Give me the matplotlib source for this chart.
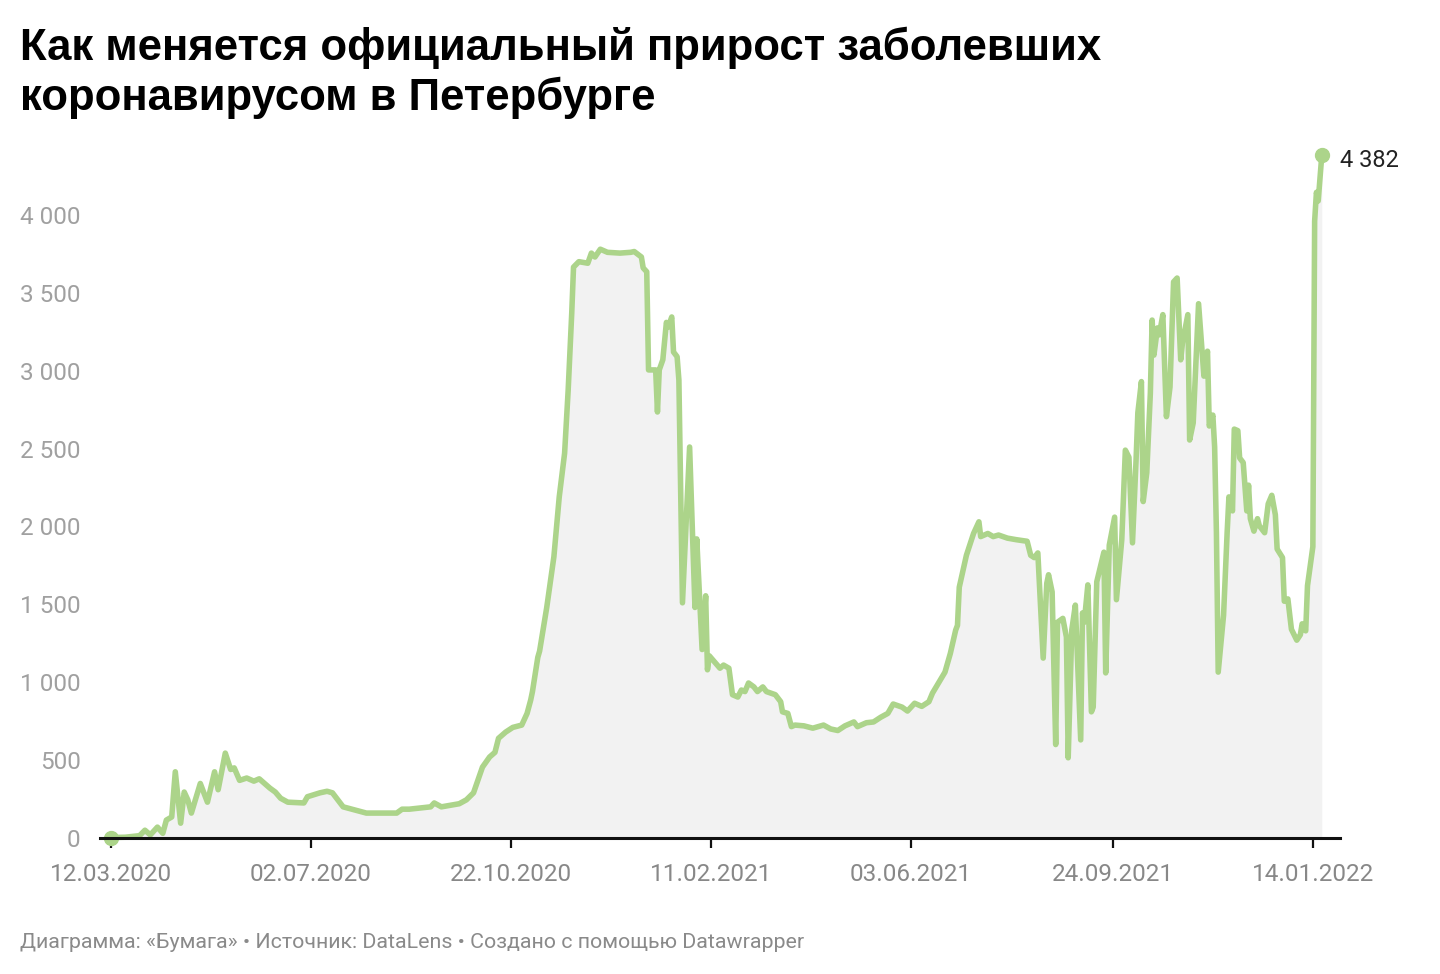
import matplotlib.pyplot as plt
import matplotlib.dates as mdates
import pandas as pd

# daily new cases (day offset from 12.03.2020)
start = pd.Timestamp("2020-03-12")
days = [0, 8, 16, 19, 22, 26, 29, 31, 34, 36, 39, 41, 43, 45, 50, 54, 58, 60, 64, 67,
        69, 72, 76, 80, 83, 89, 92, 95, 99, 108, 110, 117, 121, 124, 128, 130, 138, 143, 151, 160,
        163, 167, 179, 181, 185, 195, 199, 203, 206, 208, 212, 215, 217, 221, 225, 230, 233, 235, 236, 239,
        240, 244, 248, 251, 254, 256, 258, 259, 262, 267, 269, 271, 274, 278, 285, 291, 293, 297, 298, 300,
        301, 305, 306, 307, 309, 311, 312, 314, 315, 317, 318, 320, 324, 327, 328, 331, 333, 334, 335, 338,
        341, 343, 346, 348, 351, 353, 355, 357, 360, 362, 365, 367, 372, 375, 376, 379, 381, 383, 388, 393,
        399, 403, 407, 411, 416, 418, 423, 427, 431, 435, 438, 443, 446, 450, 454, 458, 460, 467, 470, 473,
        474, 475, 479, 483, 486, 487, 491, 494, 497, 502, 507, 513, 515, 517, 519, 522, 524, 525, 527, 529,
        530, 533, 535, 536, 538, 540, 543, 544, 545, 547, 549, 550, 552, 556, 557, 559, 562, 563, 566, 568,
        570, 572, 574, 575, 577, 578, 580, 582, 583, 584, 586, 587, 589, 591, 593, 595, 597, 599, 600, 603,
        604, 606, 609, 612, 614, 615, 617, 618, 619, 620, 623, 625, 626, 628, 629, 631, 632, 634, 636, 637,
        638, 640, 642, 643, 646, 648, 650, 652, 653, 656, 657, 659, 661, 664, 666, 667, 669, 670, 673, 674,
        675, 676, 678]
cases = [3, 5, 15, 50, 20, 70, 30, 115, 135, 425, 95, 295, 245, 160, 350, 230, 425, 310, 545, 440,
         450, 370, 385, 365, 380, 320, 295, 255, 230, 225, 265, 290, 300, 290, 230, 200, 175, 160, 160, 160,
         185, 185, 200, 225, 200, 220, 245, 290, 390, 455, 520, 550, 640, 680, 710, 725, 800, 885, 940, 1160,
         1200, 1480, 1805, 2190, 2470, 2875, 3370, 3665, 3700, 3690, 3755, 3730, 3780, 3760, 3755, 3760, 3765, 3730, 3660, 3635,
         3005, 3005, 2735, 3005, 3070, 3310, 3280, 3345, 3120, 3090, 2940, 1510, 2510, 1480, 1920, 1210, 1555, 1080, 1170, 1130,
         1090, 1110, 1090, 920, 905, 950, 940, 995, 970, 940, 970, 940, 920, 875, 810, 800, 715, 725, 720, 705,
         725, 700, 690, 720, 745, 715, 740, 745, 775, 800, 860, 840, 815, 865, 845, 875, 930, 1065, 1185, 1335,
         1365, 1610, 1815, 1955, 2030, 1935, 1955, 1935, 1945, 1925, 1915, 1905, 1815, 1800, 1830, 1155, 1635, 1690, 1580, 600,
         1385, 1410, 1290, 515, 1335, 1495, 630, 1445, 1385, 1625, 810, 840, 1645, 1835, 1060, 1880, 2060, 1530, 1915, 2490,
         2445, 1895, 2425, 2730, 2930, 2160, 2345, 2855, 3325, 3100, 3275, 3230, 3360, 2705, 2895, 3570, 3595, 3070, 3180, 3360,
         2555, 2665, 3430, 2965, 3125, 2645, 2715, 2510, 1960, 1065, 1430, 1960, 2190, 2100, 2625, 2615, 2440, 2410, 2100, 2265,
         2050, 1970, 2050, 2005, 1960, 2145, 2200, 2075, 1855, 1800, 1520, 1535, 1340, 1270, 1305, 1375, 1330, 1620, 1870, 3960,
         4145, 4090, 4382]

tick_labels = ["12.03.2020", "02.07.2020", "22.10.2020", "11.02.2021",
               "03.06.2021", "24.09.2021", "14.01.2022"]
y_ticks = [0, 500, 1000, 1500, 2000, 2500, 3000, 3500, 4000]

title_lines = ["Как меняется официальный прирост заболевших",
               "коронавирусом в Петербурге"]
footer = "Диаграмма: «Бумага» • Источник: DataLens • Создано с помощью Datawrapper"

green = "#acd48a"
dates = start + pd.to_timedelta(days, unit="D")

fig = plt.figure(figsize=(14.4, 9.74), dpi=100)
ax = fig.add_axes([100 / 1440, 1 - 838 / 974, 1240 / 1440, 693 / 974])

ax.fill_between(dates, cases, 0, color="#f2f2f2", lw=0, zorder=1)
ax.plot(dates, cases, color=green, lw=4.0, solid_joinstyle="round", zorder=3, clip_on=False)
ax.plot([dates[0], dates[-1]], [cases[0], cases[-1]], "o", color=green, ms=10, zorder=4, clip_on=False)
ax.text(dates[-1] + pd.Timedelta(days=10), cases[-1] - 30, f"{cases[-1]:,}".replace(",", " "),
        fontsize=17, family="Roboto", color="#222222", va="center", ha="left")

ax.set_xlim(start - pd.Timedelta(days=6.16), start + pd.Timedelta(days=688.2))
ax.set_ylim(0, 4449)

ax.set_xticks(pd.to_datetime(tick_labels, format="%d.%m.%Y"))
ax.set_xticklabels(tick_labels)
ax.set_yticks(y_ticks)
ax.set_yticklabels([f"{v:,}".replace(",", " ") for v in y_ticks])

for s in ["top", "right", "left"]:
    ax.spines[s].set_visible(False)
ax.spines["bottom"].set_linewidth(2.2)
ax.spines["bottom"].set_color("#111111")
ax.spines["bottom"].set_zorder(5)
ax.tick_params(axis="x", length=7, width=1.6, color="#111111", pad=11,
               labelsize=17.5, labelcolor="#888888")
ax.tick_params(axis="y", length=0, pad=14, labelsize=17.5, labelcolor="#a0a0a0")
for lab in ax.get_xticklabels() + ax.get_yticklabels():
    lab.set_family("Roboto")

fig.text(20 / 1440, 1 - 60 / 974, title_lines[0], fontsize=31.5, weight="bold",
         family="Liberation Sans", va="baseline", color="#000000")
fig.text(20 / 1440, 1 - 110 / 974, title_lines[1], fontsize=31.5, weight="bold",
         family="Liberation Sans", va="baseline", color="#000000")
fig.text(20 / 1440, 1 - 948 / 974, footer, fontsize=15.4, family="Roboto",
         va="baseline", color="#8a8a8a")

fig.savefig("out.png", dpi=100)
